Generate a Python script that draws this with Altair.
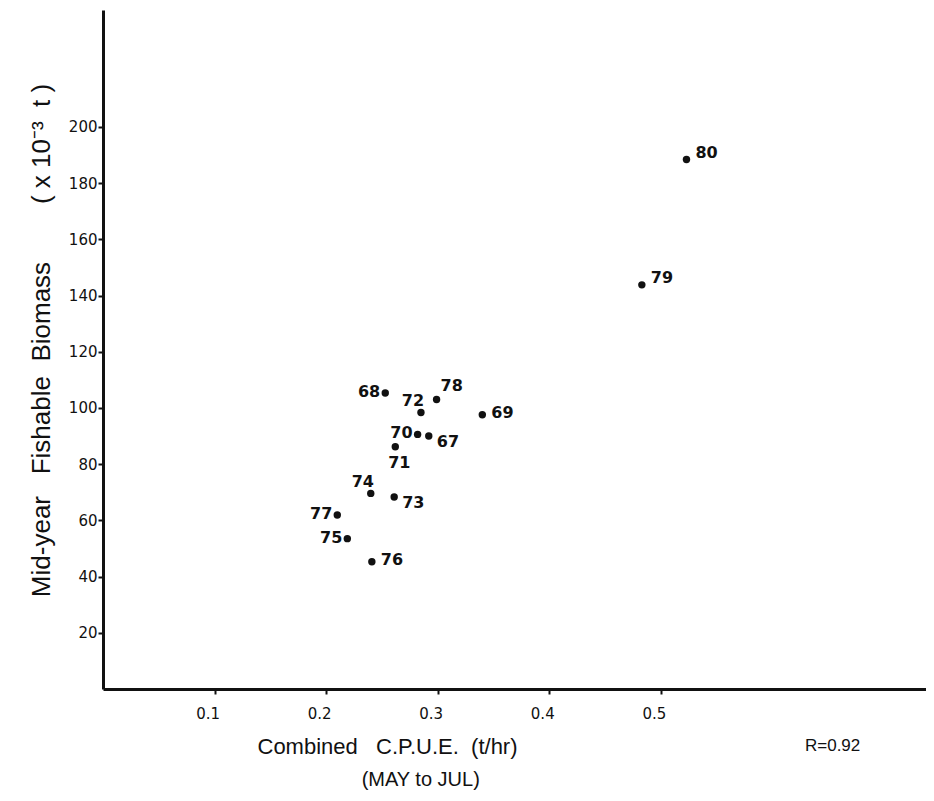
import altair as alt
import pandas as pd

# ---- data ----
years = ["80", "79", "69", "78", "68", "72", "70", "67", "71", "74", "73", "77", "75", "76"]
cpue = [0.523, 0.483, 0.340, 0.299, 0.253, 0.285, 0.282, 0.292, 0.262, 0.240, 0.261, 0.210, 0.219, 0.241]
biomass = [188.4, 143.8, 97.6, 103.0, 105.3, 98.4, 90.6, 90.0, 86.2, 69.6, 68.3, 61.9, 53.5, 45.3]
placement = ["rightup", "rightup", "right", "upright", "left", "upleft", "left",
             "lowright", "below", "upleft", "lowright", "left", "left", "right"]

x_ticks = [0.1, 0.2, 0.3, 0.4, 0.5]
y_ticks = [20, 40, 60, 80, 100, 120, 140, 160, 180, 200]

note_text = ["R=0.92", "(MAY to JUL)"]
note_x = [0.654, 0.2848]
note_y = [-20.2, -32.5]
note_size = [17, 20]

NB = "\u00a0"
x_title = "Combined" + NB * 3 + "C.P.U.E." + NB * 2 + "(t/hr)"
y_title = ("Mid-year" + NB * 3 + "Fishable" + NB * 2 + "Biomass" + NB * 8
           + "(" + NB + "x" + NB + "10\u207b\u00b3" + NB * 2 + "t" + NB + ")")

df = pd.DataFrame({"year": years, "cpue": cpue, "biomass": biomass, "place": placement})
notes = pd.DataFrame({"text": note_text, "x": note_x, "y": note_y, "size": note_size})

X_DOMAIN = [0, 0.7377]
Y_DOMAIN = [0, 241.6]

xscale = alt.Scale(domain=X_DOMAIN, nice=False, zero=False)
yscale = alt.Scale(domain=Y_DOMAIN, nice=False, zero=False)

x_enc = alt.X(
    "cpue:Q", scale=xscale,
    axis=alt.Axis(
        values=x_ticks, format=".1f", grid=False,
        domainColor="#111", domainWidth=3, tickColor="#111", tickWidth=2, tickSize=5,
        labelFont="DejaVu Sans", labelFontSize=15, labelColor="#111", labelPadding=12,
        labelOffset=-7,
        title=x_title, titleFont="Liberation Sans", titleFontSize=22, titleFontWeight="normal",
        titleColor="#111", titleX=284, titleY=57, titleAlign="center", titleBaseline="middle",
    ),
)
y_enc = alt.Y(
    "biomass:Q", scale=yscale,
    axis=alt.Axis(
        values=y_ticks, format="d", grid=False,
        domainColor="#111", domainWidth=3, tickColor="#111", tickWidth=2, tickSize=5,
        labelFont="DejaVu Sans", labelFontSize=15, labelColor="#111", labelPadding=1,
        title=y_title, titleFont="Liberation Sans", titleFontSize=26, titleFontWeight="normal",
        titleColor="#111", titleX=-62, titleY=330, titleAlign="center", titleBaseline="middle",
    ),
)

points = alt.Chart(df).mark_circle(size=55, color="#111", opacity=1).encode(x=x_enc, y=y_enc)

styles = {
    "right": dict(align="left", dx=9, dy=-2),
    "rightup": dict(align="left", dx=9, dy=-7),
    "lowright": dict(align="left", dx=8, dy=6),
    "left": dict(align="right", dx=-5, dy=-1),
    "upright": dict(align="left", dx=4, dy=-14),
    "upleft": dict(align="center", dx=-8, dy=-11),
    "below": dict(align="center", dx=4, dy=16),
}

label_layers = []
for place, st in styles.items():
    label_layers.append(
        alt.Chart(df).transform_filter(alt.datum.place == place)
        .mark_text(font="DejaVu Sans", fontWeight="bold", fontSize=16, color="#111",
                   baseline="middle", **st)
        .encode(x=alt.X("cpue:Q", scale=xscale), y=alt.Y("biomass:Q", scale=yscale), text="year:N")
    )

note_layer = alt.Chart(notes).mark_text(
    font="Liberation Sans", color="#111", align="center", baseline="middle"
).encode(
    x=alt.X("x:Q", scale=xscale),
    y=alt.Y("y:Q", scale=yscale),
    text="text:N",
    size=alt.Size("size:Q", scale=None, legend=None),
)

chart = alt.layer(points, *label_layers, note_layer).properties(
    width=823, height=679,
    autosize=alt.AutoSizeParams(type="none"),
    padding={"left": 95, "top": 2, "right": 0, "bottom": 103},
    background="white",
).configure_view(stroke=None)

chart.save("out.html", embed_options={"renderer": "svg", "actions": False})
